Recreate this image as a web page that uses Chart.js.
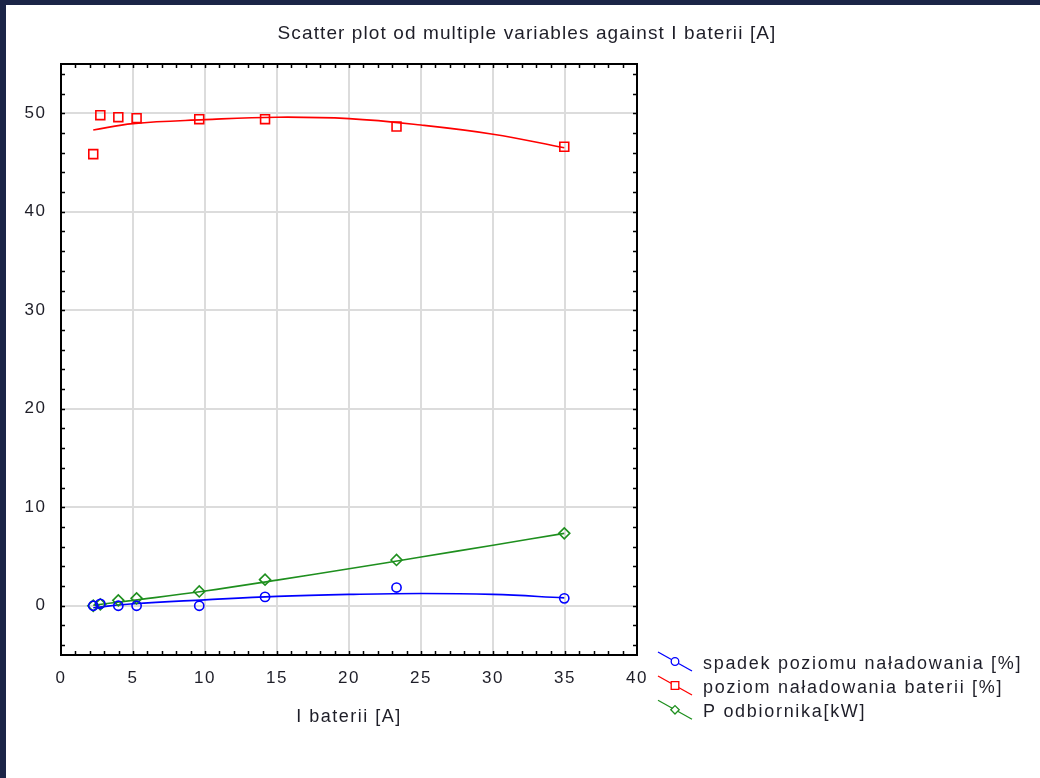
<!DOCTYPE html>
<html><head><meta charset="utf-8">
<script src="https://cdn.jsdelivr.net/npm/chart.js@4.4.0/dist/chart.umd.min.js"></script>
<style>
html,body{margin:0;padding:0;background:#1b2547;width:1040px;height:778px;overflow:hidden}
#wrap{position:absolute;left:6px;top:5px;width:1034px;height:773px;background:#fff}
canvas{display:block}
</style></head><body>
<div id="wrap"><canvas id="c" width="1034" height="773"></canvas></div>
<script>
// ---- data ----
const titleText = 'Scatter plot od multiple variables against I baterii [A]';
const xAxisTitle = 'I baterii [A]';
const seriesNames = ['spadek poziomu naładowania [%]', 'poziom naładowania baterii [%]', 'P odbiornika[kW]'];
const xTicks = [0, 5, 10, 15, 20, 25, 30, 35, 40];
const yTicks = [0, 10, 20, 30, 40, 50];

const iBaterii = [2.24, 2.73, 3.98, 5.25, 9.6, 14.17, 23.3, 34.95];
const spadek   = [0, 0.2, 0, 0, 0, 0.9, 1.85, 0.75];
const poziom   = [45.85, 49.8, 49.6, 49.5, 49.4, 49.4, 48.65, 46.6];
const pOdb     = [0, 0.15, 0.55, 0.75, 1.45, 2.65, 4.65, 7.35];

// fitted curves
const fitX       = [2.24, 5, 10, 15, 20, 25, 30, 34.95];
const spadekFit  = [-0.2, 0.2, 0.6, 0.95, 1.15, 1.25, 1.15, 0.8];
const poziomFit  = [48.3, 48.95, 49.35, 49.6, 49.45, 48.8, 47.87, 46.5];
const pOdbFit    = [0.05, 0.55, 1.5, 2.6, 3.75, 4.95, 6.15, 7.35];

const BLUE = '#0000ff', RED = '#ff0000', GREEN = '#1e8f1e';
const FONT = "'Liberation Sans', Arial, sans-serif";
const TXT = '#1e1e28';

const pts = (xs, ys) => xs.map((x, i) => ({x, y: ys[i]}));

const spacing = {
  id: 'spacing',
  beforeUpdate(c) { c.ctx.letterSpacing = '1.5px'; },
  beforeDraw(c) { c.ctx.letterSpacing = '1.5px'; }
};

function marker(ctx, style, x, y, r) {
  ctx.beginPath();
  if (style === 'circle') ctx.arc(x, y, r, 0, Math.PI * 2);
  else if (style === 'rect') ctx.rect(x - r, y - r, 2 * r, 2 * r);
  else { ctx.moveTo(x - r, y); ctx.lineTo(x, y - r); ctx.lineTo(x + r, y); ctx.lineTo(x, y + r); ctx.closePath(); }
  ctx.fillStyle = '#fff'; ctx.fill(); ctx.stroke();
}

const frame = {
  id: 'frame',
  afterDraw(c) {
    const {ctx, chartArea: a, scales: {x, y}} = c;
    ctx.save();
    // title
    ctx.letterSpacing = '1.1px';
    ctx.fillStyle = TXT;
    ctx.font = '19px ' + FONT;
    ctx.textAlign = 'center'; ctx.textBaseline = 'alphabetic';
    ctx.fillText(titleText, 521, 34.3);

    ctx.strokeStyle = '#000';
    ctx.lineWidth = 1.5;
    ctx.beginPath();
    for (let v = 1; v < 40; v++) {
      const px = Math.round(x.getPixelForValue(v)) + 0.5;
      ctx.moveTo(px, a.bottom); ctx.lineTo(px, a.bottom - 4);
      ctx.moveTo(px, a.top); ctx.lineTo(px, a.top + 4);
    }
    for (let v = -4; v < 55; v += 2) {
      const py = Math.round(y.getPixelForValue(v)) + 0.5;
      ctx.moveTo(a.left, py); ctx.lineTo(a.left + 4, py);
      ctx.moveTo(a.right, py); ctx.lineTo(a.right - 4, py);
    }
    ctx.stroke();
    ctx.lineWidth = 2;
    ctx.strokeRect(a.left, a.top, a.right - a.left, a.bottom - a.top);

    // legend
    const items = [
      {name: seriesNames[0], color: BLUE, style: 'circle', r: 3.8},
      {name: seriesNames[1], color: RED, style: 'rect', r: 3.8},
      {name: seriesNames[2], color: GREEN, style: 'diamond', r: 4.2}
    ];
    const baseY = [664, 688, 712.3];
    ctx.letterSpacing = '1.7px';
    items.forEach((it, i) => {
      const y0 = baseY[i] - 17;
      ctx.strokeStyle = it.color;
      ctx.lineWidth = 1.3;
      ctx.beginPath(); ctx.moveTo(652, y0); ctx.lineTo(686, y0 + 19); ctx.stroke();
      marker(ctx, it.style, 669, y0 + 9.5, it.r);
      ctx.fillStyle = TXT;
      ctx.font = '18px ' + FONT;
      ctx.textAlign = 'left'; ctx.textBaseline = 'alphabetic';
      ctx.fillText(it.name, 697, baseY[i]);
    });
    ctx.restore();
  }
};

new Chart(document.getElementById('c'), {
  data: {
    datasets: [
      {type: 'line', data: pts(fitX, spadekFit), borderColor: BLUE, borderWidth: 1.6, pointRadius: 0, tension: 0.4, order: 5},
      {type: 'line', data: pts(fitX, poziomFit), borderColor: RED, borderWidth: 1.6, pointRadius: 0, tension: 0.4, order: 5},
      {type: 'line', data: pts(fitX, pOdbFit), borderColor: GREEN, borderWidth: 1.6, pointRadius: 0, tension: 0.4, order: 5},
      {type: 'scatter', label: seriesNames[0], data: pts(iBaterii, spadek), borderColor: BLUE, backgroundColor: 'rgba(0,0,0,0)', pointStyle: 'circle', pointRadius: 4.6, borderWidth: 1.6, order: 1},
      {type: 'scatter', label: seriesNames[1], data: pts(iBaterii, poziom), borderColor: RED, backgroundColor: 'rgba(0,0,0,0)', pointStyle: 'rect', pointRadius: 6.3, borderWidth: 1.6, order: 1},
      {type: 'scatter', label: seriesNames[2], data: pts(iBaterii, pOdb), borderColor: GREEN, backgroundColor: 'rgba(0,0,0,0)', pointStyle: 'rectRot', pointRadius: 5.5, borderWidth: 1.6, order: 1}
    ]
  },
  options: {
    responsive: false,
    animation: false,
    devicePixelRatio: 1,
    layout: {padding: {left: 0, right: 403, top: 59, bottom: 0}},
    plugins: {
      legend: {display: false},
      tooltip: {enabled: false},
      title: {display: false}
    },
    scales: {
      x: {
        type: 'linear', min: 0, max: 40,
        afterBuildTicks: s => { s.ticks = xTicks.map(v => ({value: v})); },
        afterFit: s => { s.height = 123; },
        ticks: {color: TXT, font: {family: FONT, size: 17}, padding: 13, maxRotation: 0, autoSkip: false},
        grid: {color: '#dcdcdc', lineWidth: 2, drawTicks: false},
        border: {display: false},
        title: {display: true, text: xAxisTitle, color: TXT, font: {family: FONT, size: 18}, padding: {top: 0, bottom: 50.5}}
      },
      y: {
        type: 'linear', min: -5, max: 55,
        afterBuildTicks: s => { s.ticks = yTicks.map(v => ({value: v})); },
        afterFit: s => { s.width = 55; },
        ticks: {color: TXT, font: {family: FONT, size: 17}, padding: 14.5, autoSkip: false},
        grid: {color: '#dcdcdc', lineWidth: 2, drawTicks: false},
        border: {display: false}
      }
    }
  },
  plugins: [spacing, frame]
});
</script>
</body></html>
